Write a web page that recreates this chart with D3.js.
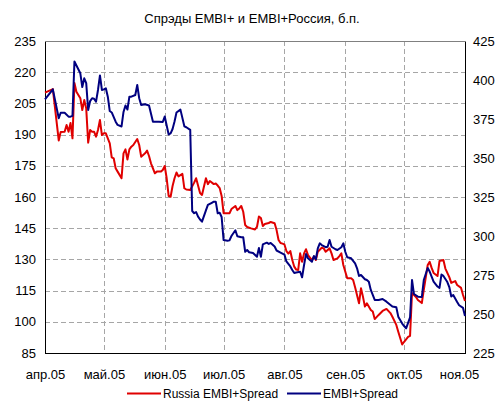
<!DOCTYPE html>
<html><head><meta charset="utf-8">
<script src="https://cdn.jsdelivr.net/npm/d3@7/dist/d3.min.js"></script>
<style>
body{margin:0;background:#fff}
svg{display:block}
text{font-family:"Liberation Sans",Arial,sans-serif;fill:#000}
</style>
</head><body>
<svg id="chart" width="496" height="401"></svg>
<script>
const year = 2005;
const titleText = "Спрэды EMBI+ и EMBI+Россия, б.п.";
const seriesNames = ["Russia EMBI+Spread", "EMBI+Spread"];
const monthLabels = ["янв","фев","мар","апр","май","июн","июл","авг","сен","окт","ноя","дек"];
const leftTicks = [85,100,115,130,145,160,175,190,205,220,235];
const rightTicks = [225,250,275,300,325,350,375,400,425];

const russiaDates = ["04-01","04-05","04-08","04-09","04-11","04-12","04-13","04-14","04-15","04-16","04-17","04-19","04-20","04-21","04-22","04-23","04-24","04-25","04-26","04-27","04-28","04-29","04-30",
"05-01","05-02","05-04","05-05","05-06","05-07","05-08","05-10","05-11","05-12","05-13","05-14","05-15","05-16","05-18","05-19","05-20","05-21","05-22","05-23","05-24","05-25","05-27","05-28","05-30","05-31",
"06-01","06-02","06-03","06-04","06-05","06-06","06-07","06-08","06-10","06-11","06-12","06-14","06-16","06-17","06-19","06-20","06-21","06-22","06-23","06-24","06-26","06-27","06-28","06-29","06-30",
"07-01","07-03","07-04","07-05","07-07","07-08","07-09","07-10","07-11","07-12","07-13","07-15","07-17","07-18","07-19","07-20","07-21","07-22","07-24","07-25","07-27","07-28","07-29","07-30","07-31",
"08-01","08-02","08-03","08-04","08-05","08-06","08-07","08-08","08-09","08-10","08-11","08-12","08-13","08-15","08-16","08-17","08-18","08-20","08-21","08-22","08-24","08-25","08-26","08-28","08-29","08-30","08-31",
"09-02","09-04","09-05","09-06","09-08","09-09","09-10","09-11","09-12","09-14","09-15","09-16","09-18","09-20","09-22","09-24","09-25","09-27","09-28","09-30",
"10-01","10-03","10-04","10-05","10-07","10-08","10-10","10-11","10-13","10-14","10-15","10-16","10-18","10-19","10-21","10-22","10-24","10-25","10-27","10-28","10-30","10-31","11-01"];
const russiaValues = [210.2,211.9,187.2,191.3,191.4,194.6,191.4,195.6,188.2,214.8,210.6,207.5,201.8,206.6,202.6,186.1,192.2,191.4,191.4,189.0,192.2,197.0,189.8,
190.6,190.6,185.8,179.1,178.6,173.8,172.2,169.0,181.0,182.9,178.0,182.9,184.2,185.0,187.9,185.0,179.4,180.2,181.0,182.3,179.7,176.2,171.4,172.2,172.2,173.0,
174.9,169.0,160.5,160.1,165.3,169.0,171.8,169.9,171.1,164.2,163.6,163.4,166.9,169.0,161.9,161.0,165.0,169.0,166.2,167.7,166.2,166.5,165.5,164.3,160.5,
152.2,152.2,152.2,154.2,155.7,153.7,154.5,155.7,152.9,146.5,145.6,144.9,144.4,145.6,150.6,149.9,146.1,147.0,147.5,148.0,147.4,144.1,139.3,137.9,137.6,
137.2,134.0,132.8,134.0,129.7,126.5,125.1,124.9,132.9,128.9,132.9,134.9,132.1,129.7,131.3,129.7,133.7,135.6,135.3,133.7,135.3,132.9,129.7,130.5,131.6,132.9,127.3,
120.9,120.9,120.1,116.6,108.9,116.1,112.1,107.3,108.9,105.7,104.9,101.3,103.3,105.2,106.2,104.2,102.4,98.5,95.2,89.1,
90.4,92.7,93.2,113.8,111.9,110.5,109.0,115.3,127.3,128.8,125.9,123.5,122.0,129.2,129.7,125.6,121.5,118.7,119.6,117.7,116.3,112.9,110.0];

const embiDates = ["04-01","04-05","04-08","04-09","04-11","04-13","04-14","04-15","04-16","04-19","04-20","04-21","04-22","04-23","04-24","04-25","04-26","04-27","04-28","04-29","04-30",
"05-01","05-02","05-03","05-04","05-05","05-07","05-08","05-10","05-11","05-12","05-13","05-14","05-15","05-17","05-18","05-19","05-20","05-22","05-24","05-26","05-29","05-31",
"06-01","06-03","06-04","06-05","06-06","06-07","06-09","06-11","06-12","06-14","06-15","06-16","06-17","06-18","06-19","06-20","06-22","06-23","06-25","06-26","06-27","06-28","06-29","06-30",
"07-01","07-03","07-04","07-05","07-07","07-08","07-10","07-11","07-12","07-13","07-14","07-16","07-18","07-19","07-20","07-21","07-23","07-24","07-25","07-27","07-28","07-30",
"08-01","08-02","08-04","08-05","08-06","08-07","08-09","08-10","08-11","08-12","08-13","08-15","08-16","08-17","08-18","08-19","08-20","08-22","08-23","08-24","08-25","08-27","08-28","08-30","08-31",
"09-01","09-02","09-04","09-06","09-07","09-08","09-09","09-11","09-12","09-13","09-14","09-16","09-18","09-20","09-22","09-25","09-27","09-28","09-30",
"10-01","10-02","10-04","10-05","10-06","10-08","10-10","10-11","10-13","10-14","10-15","10-16","10-18","10-19","10-20","10-21","10-23","10-24","10-25","10-26","10-28","10-29","10-31","11-01"];
const embiValues = [387.6,394.0,375.5,379.0,379.0,376.5,376.5,377.0,411.9,404.3,395.5,401.1,398.0,380.8,386.5,388.3,388.0,386.1,393.6,402.9,393.6,
394.0,394.7,389.3,380.1,379.2,373.3,371.2,370.2,379.5,383.7,381.1,389.3,389.3,390.4,396.8,388.3,384.0,384.4,383.7,373.3,373.3,373.1,
376.6,365.1,365.8,368.6,373.4,379.2,381.0,370.3,369.7,368.0,316.0,314.6,315.3,312.4,310.6,309.2,316.4,319.9,321.3,322.0,322.0,314.6,314.9,312.2,
297.4,297.0,297.2,300.0,303.7,299.8,299.2,299.2,289.9,291.0,289.6,289.1,286.7,292.3,286.7,294.6,295.7,294.9,295.5,293.3,290.7,289.4,
288.1,283.7,280.5,278.2,276.3,276.6,277.1,273.5,281.4,288.5,285.7,283.5,287.2,285.1,292.1,295.3,294.2,292.8,293.1,297.4,293.1,291.5,291.0,292.8,295.3,
289.9,286.4,285.7,282.5,279.3,274.4,275.0,272.3,271.8,270.7,265.4,259.0,259.0,259.6,257.9,254.8,254.3,248.3,243.9,
242.3,240.8,247.8,271.8,262.8,261.1,260.9,271.8,279.5,277.2,274.0,270.8,267.6,266.7,275.3,274.4,270.5,267.3,261.2,262.2,257.7,255.6,253.9,248.7];

const parse = d3.timeParse("%Y-%m-%d");
const toDate = s => parse(year + "-" + s);
const russia = russiaDates.map((d, i) => ({date: toDate(d), value: russiaValues[i]}));
const embi = embiDates.map((d, i) => ({date: toDate(d), value: embiValues[i]}));

const m = {left: 45, right: 465, top: 41, bottom: 353};
const svg = d3.select("#chart");

const x = d3.scaleTime().domain([toDate("04-01"), toDate("11-01")]).range([m.left, m.right]);
const yL = d3.scaleLinear().domain([85, 235]).range([m.bottom, m.top]);
const yR = d3.scaleLinear().domain([225, 425]).range([m.bottom, m.top]);
const months = d3.timeMonth.range(toDate("04-01"), d3.timeDay.offset(toDate("11-01"), 1));

// gridlines
const grid = svg.append("g").attr("stroke", "#a6a6a6").attr("stroke-width", 1).attr("stroke-dasharray", "5,3").attr("shape-rendering", "crispEdges");
grid.selectAll("line.h").data(leftTicks.filter(v => v > 85 && v < 235)).join("line")
  .attr("x1", m.left).attr("x2", m.right)
  .attr("y1", d => Math.round(yL(d)) + 0.5).attr("y2", d => Math.round(yL(d)) + 0.5);
grid.selectAll("line.v").data(months.slice(1, -1)).join("line")
  .attr("y1", m.top).attr("y2", m.bottom)
  .attr("x1", d => Math.round(x(d)) + 0.5).attr("x2", d => Math.round(x(d)) + 0.5);

// frame
svg.append("rect").attr("x", m.left + 0.5).attr("y", m.top + 0.5)
  .attr("width", m.right - m.left).attr("height", m.bottom - m.top)
  .attr("fill", "none").attr("stroke", "#808080").attr("shape-rendering", "crispEdges");

// axes
const fmtMonth = d => monthLabels[d.getMonth()] + "." + String(d.getFullYear()).slice(2);
const axL = svg.append("g").attr("transform", `translate(${m.left},0)`)
  .call(d3.axisLeft(yL).tickValues(leftTicks).tickSize(0).tickPadding(9));
const axR = svg.append("g").attr("transform", `translate(${m.right},0)`)
  .call(d3.axisRight(yR).tickValues(rightTicks).tickSize(0).tickPadding(8));
const axB = svg.append("g").attr("transform", `translate(0,${m.bottom})`)
  .call(d3.axisBottom(x).tickValues(months).tickFormat(fmtMonth).tickSize(0).tickPadding(17));
[axL, axR, axB].forEach(a => {
  a.selectAll("text").attr("font-size", 13).attr("font-family", '"Liberation Sans",Arial,sans-serif').attr("fill", "#000");
  a.select(".domain").attr("stroke", "#000").attr("shape-rendering", "crispEdges");
});
axB.selectAll(".tick text").filter((d, i, n) => i === n.length - 1).attr("dx", -6);

// lines
const lineL = d3.line().x(d => x(d.date)).y(d => yL(d.value));
const lineR = d3.line().x(d => x(d.date)).y(d => yR(d.value));
svg.append("path").datum(russia).attr("d", lineL).attr("fill", "none")
  .attr("stroke", "#e00000").attr("stroke-width", 2).attr("stroke-linejoin", "round");
svg.append("path").datum(embi).attr("d", lineR).attr("fill", "none")
  .attr("stroke", "#000080").attr("stroke-width", 2).attr("stroke-linejoin", "round");

// title
svg.append("text").attr("x", 252).attr("y", 23).attr("text-anchor", "middle")
  .attr("font-size", 13).text(titleText);

// legend
const legend = svg.append("g");
const items = [{name: seriesNames[0], color: "#e00000", x: 127}, {name: seriesNames[1], color: "#000080", x: 287}];
items.forEach(it => {
  legend.append("line").attr("x1", it.x).attr("x2", it.x + 34).attr("y1", 393.5).attr("y2", 393.5)
    .attr("stroke", it.color).attr("stroke-width", 2);
  legend.append("text").attr("x", it.x + 36).attr("y", 397.5).attr("font-size", 12).text(it.name);
});
</script>
</body></html>
